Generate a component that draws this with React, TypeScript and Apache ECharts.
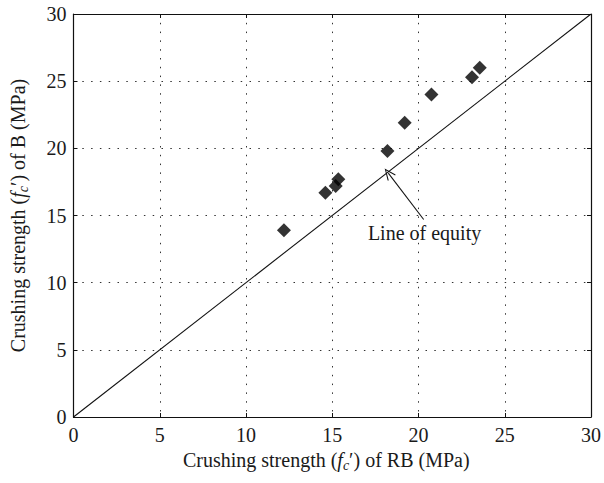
import React, { useEffect, useRef } from "react";
import * as echarts from "echarts";

const rbStrength: number[] = [12.2, 14.6, 15.2, 15.35, 18.2, 19.2, 20.75, 23.1, 23.55];
const bStrength: number[] = [13.9, 16.7, 17.2, 17.7, 19.8, 21.9, 24.0, 25.3, 26.0];
const equityLine: number[][] = [[0, 0], [30, 30]];
const arrowFrom: number[] = [20.3, 14.7];
const arrowTo: number[] = [18.25, 18.15];
const annotationPos: number[] = [20.35, 13.7];
const annotationText = "Line of equity";
const axisMin = 0;
const axisMax = 30;
const axisStep = 5;

const FONT = "'Liberation Serif', 'DejaVu Serif', serif";
const FS = 20;

export default function App() {
  const ref = useRef<HTMLDivElement>(null);
  useEffect(() => {
    if (!ref.current) return;
    document.body.style.margin = "0";
    const chart = echarts.init(ref.current, undefined, { renderer: "svg" });
    const points = rbStrength.map((x, i) => [x, bStrength[i]]);
    const rich = {
      n: { fontFamily: FONT, fontSize: FS, color: "#1a1a1a" },
      i: { fontFamily: FONT, fontSize: FS, fontStyle: "italic", color: "#1a1a1a" },
      s: { fontFamily: FONT, fontSize: 14, fontStyle: "italic", color: "#1a1a1a", padding: [11, 0, 0, 0] },
    };
    const axisCommon = {
      min: axisMin,
      max: axisMax,
      interval: axisStep,
      axisLine: { show: true, onZero: false, lineStyle: { color: "#111", width: 1.2 } },
      axisTick: { show: true, inside: true, length: 4, lineStyle: { color: "#111" } },
    };
    const option: any = {
      animation: false,
      backgroundColor: "#fff",
      grid: { left: 70, right: 11, top: 14, bottom: 66, show: false },
      xAxis: [
        {
          ...axisCommon,
          type: "value",
          position: "bottom",
          axisLabel: { fontFamily: FONT, fontSize: FS, color: "#1a1a1a", margin: 8 },
          splitLine: { show: true, lineStyle: { color: "#333", type: [1.5, 7.3], width: 1 } },
          name: "{n|Crushing strength (}{i|f}{s|c}{n|′) of RB (MPa)}",
          nameLocation: "middle",
          nameGap: 30,
          nameTextStyle: { rich, padding: [0, 12, 0, 0] },
        },
        {
          ...axisCommon,
          type: "value",
          position: "top",
          axisLabel: { show: false },
          splitLine: { show: false },
        },
      ],
      yAxis: [
        {
          ...axisCommon,
          type: "value",
          position: "left",
          axisLabel: { fontFamily: FONT, fontSize: FS, color: "#1a1a1a", margin: 7 },
          splitLine: { show: true, lineStyle: { color: "#333", type: [1.5, 7.3], width: 1 } },
          name: "{n|Crushing strength (}{i|f}{s|c}{n|′) of B (MPa)}",
          nameLocation: "middle",
          nameGap: 43,
          nameRotate: 90,
          nameTextStyle: { rich },
        },
        {
          ...axisCommon,
          type: "value",
          position: "right",
          axisLabel: { show: false },
          splitLine: { show: false },
        },
      ],
      series: [
        {
          type: "line",
          data: equityLine,
          symbol: "none",
          lineStyle: { color: "#111", width: 1.1 },
          silent: true,
          markLine: {
            silent: true,
            symbol: ["none", "path://M0,0 L-6,12 L-4.8,12.6 L0,2.6 L4.8,12.6 L6,12 Z"],
            symbolSize: [10, 12],
            symbolKeepAspect: false,
            label: { show: false },
            lineStyle: { color: "#111", width: 1.1, type: "solid" },
            data: [[{ coord: arrowFrom }, { coord: arrowTo }]],
          },
          markPoint: {
            silent: true,
            symbol: "circle",
            symbolSize: 0,
            data: [{ coord: annotationPos, value: annotationText }],
            label: {
              show: true,
              position: "inside",
              formatter: annotationText,
              fontFamily: FONT,
              fontSize: FS,
              color: "#1a1a1a",
            },
          },
        },
        {
          type: "scatter",
          data: points,
          symbol: "diamond",
          symbolSize: 14,
          itemStyle: { color: "#000" },
        },
      ],
    };
    chart.setOption(option);
    return () => chart.dispose();
  }, []);
  return <div ref={ref} style={{ width: 604, height: 483 }} />;
}
